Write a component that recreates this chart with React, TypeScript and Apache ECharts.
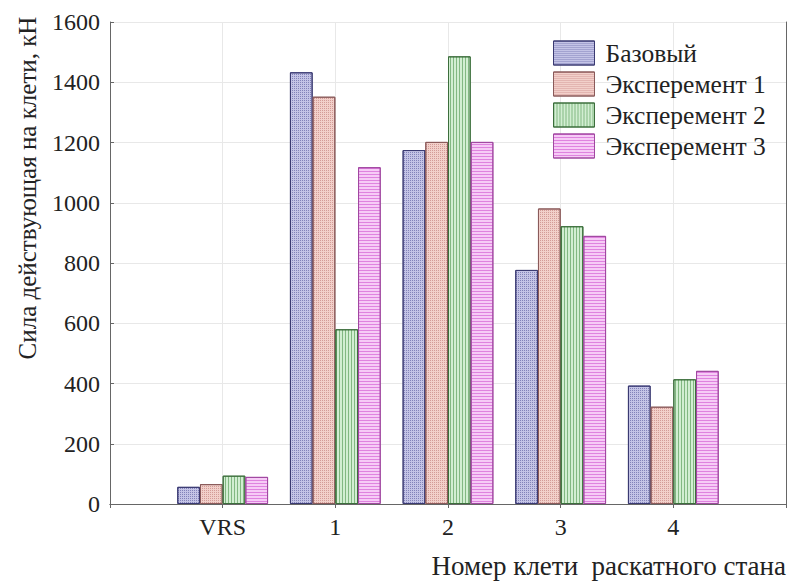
import React, { useEffect, useRef } from "react";
import * as echarts from "echarts";

const categories = ["", "VRS", "1", "2", "3", "4", ""];
const seriesNames = ["Базовый", "Эксперемент 1", "Эксперемент 2", "Эксперемент 3"];
const baseValues = [null, 57, 1433, 1175, 777, 393, null];
const exp1Values = [null, 66, 1352, 1202, 981, 323, null];
const exp2Values = [null, 94, 580, 1486, 922, 414, null];
const exp3Values = [null, 90, 1118, 1202, 890, 442, null];
const yTicks = { min: 0, max: 1600, interval: 200 };
const yTitle = "Сила действующая на клети, кН";
const xTitle = "Номер клети  раскатного стана";

const FONT = "Liberation Serif";

export default function App() {
  const ref = useRef<HTMLDivElement>(null);
  useEffect(() => {
    if (!ref.current) return;
    const chart = echarts.init(ref.current, undefined, { renderer: "svg" });
    const styles = [
      {
        color: "#c4c4e6",
        borderColor: "#3a3a72",
        decal: { symbol: "rect", symbolSize: 1, color: "rgba(50,50,130,0.45)", dashArrayX: [1, 1], dashArrayY: [1, 1] },
      },
      {
        color: "#f2d0ca",
        borderColor: "#8a5a5a",
        decal: { symbol: "rect", symbolSize: 1, color: "rgba(170,80,80,0.42)", dashArrayX: [1, 1], dashArrayY: [1, 1] },
      },
      {
        color: "#d2eed2",
        borderColor: "#3c6e3c",
        decal: { symbol: "rect", symbolSize: 1, color: "rgba(50,130,50,0.5)", dashArrayX: [1, 2], dashArrayY: [1, 0] },
      },
      {
        color: "#f6cbf6",
        borderColor: "#a048a0",
        decal: { symbol: "rect", symbolSize: 1, color: "rgba(200,60,200,0.5)", dashArrayX: [1, 0], dashArrayY: [1, 2] },
      },
    ];
    const values = [baseValues, exp1Values, exp2Values, exp3Values];
    chart.setOption({
      animation: false,
      backgroundColor: "#ffffff",
      textStyle: { fontFamily: FONT },
      grid: { left: 110, right: 4, top: 22, bottom: 79, containLabel: false },
      legend: {
        data: seriesNames,
        orient: "vertical",
        left: 553,
        top: 40,
        padding: 0,
        itemWidth: 41,
        itemHeight: 24,
        itemGap: 5,
        icon: "rect",
        itemStyle: { borderWidth: 1 },
        textStyle: { fontFamily: FONT, fontSize: 25.5, color: "#222", padding: [0, 0, 0, 6] },
      },
      xAxis: [
        {
          type: "category",
          data: categories,
          boundaryGap: false,
          position: "bottom",
          axisLine: { lineStyle: { color: "#666", width: 1 } },
          axisTick: { show: false },
          axisLabel: { fontFamily: FONT, fontSize: 24, color: "#222", margin: 11, interval: 0 },
          splitLine: { show: true, lineStyle: { color: "#e8e8e8", width: 1 } },
        },
        {
          type: "category",
          data: categories,
          boundaryGap: false,
          position: "top",
          axisLine: { lineStyle: { color: "#666", width: 1 } },
          axisTick: { show: true, inside: true, length: 4, lineStyle: { color: "#666" }, interval: 0 },
          axisLabel: { show: false },
          splitLine: { show: false },
        },
      ],
      yAxis: [
        {
          type: "value",
          min: yTicks.min,
          max: yTicks.max,
          interval: yTicks.interval,
          axisLine: { show: true, lineStyle: { color: "#666", width: 1 } },
          axisTick: { show: true, inside: true, length: 4, lineStyle: { color: "#666" } },
          axisLabel: {
            fontFamily: FONT,
            fontSize: 24,
            color: "#222",
            margin: 10,
            formatter: (v: number) => String(v),
          },
          splitLine: { show: true, lineStyle: { color: "#e8e8e8", width: 1 } },
        },
        {
          type: "value",
          min: yTicks.min,
          max: yTicks.max,
          interval: yTicks.interval,
          position: "right",
          axisLine: { show: true, lineStyle: { color: "#666", width: 1 } },
          axisTick: { show: false },
          axisLabel: { show: false },
          splitLine: { show: false },
        },
      ],
      series: seriesNames.map((name, i) => ({
        name,
        type: "bar",
        xAxisIndex: 0,
        yAxisIndex: 0,
        data: values[i],
        barWidth: 22.7,
        barGap: "0%",
        itemStyle: {
          color: styles[i].color,
          borderColor: styles[i].borderColor,
          borderWidth: 1,
          decal: styles[i].decal,
        },
      })),
      graphic: [
        {
          type: "text",
          x: 27,
          y: 188,
          rotation: Math.PI / 2,
          style: {
            text: yTitle,
            fontFamily: FONT,
            fontSize: 25,
            fill: "#222",
            textAlign: "center",
            textVerticalAlign: "middle",
          },
        },
        {
          type: "text",
          x: 786,
          y: 566,
          style: {
            text: xTitle,
            fontFamily: FONT,
            fontSize: 27,
            fill: "#222",
            textAlign: "right",
            textVerticalAlign: "middle",
          },
        },
      ],
    });
    return () => chart.dispose();
  }, []);
  return <div ref={ref} style={{ width: 790, height: 583, position: "absolute", left: 0, top: 0 }} />;
}
